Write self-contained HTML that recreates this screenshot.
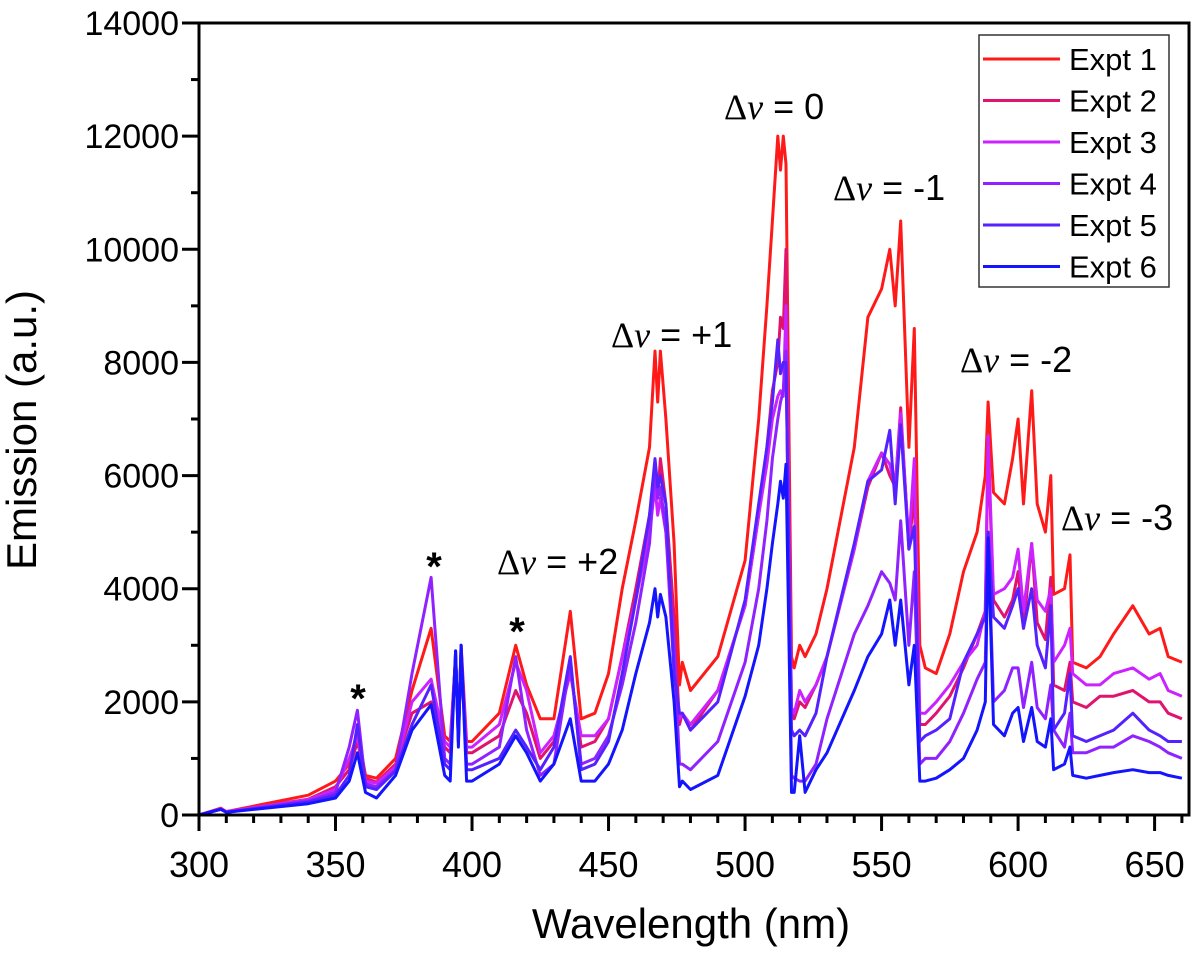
<!DOCTYPE html>
<html><head><meta charset="utf-8"><style>
html,body{margin:0;padding:0;background:#fff;}
svg text{font-family:"Liberation Sans",Arial,sans-serif;}
</style></head><body>
<svg id="chart" width="1200" height="955" viewBox="0 0 1200 955" xmlns="http://www.w3.org/2000/svg"></svg>
<script>
const wavelengths=[300,308,310,340,350,355,358,361,365,372,378,385,390,392,394,395,396,398,400,410,416,420,425,430,436,440,445,450,455,460,465,467,468,469,471,474,476,477,480,490,500,505,508,510,512,513,514,515,517,518,520,522,526,530,540,545,550,553,555,557,560,562,564,566,570,575,580,585,588,589,591,595,598,600,602,605,607,610,612,613,617,619,620,625,630,635,642,648,652,655,660];
const expt1=[0,120,60,350,600,900,1500,700,650,1000,2200,3300,1400,1300,2800,1500,3000,1300,1300,1800,3000,2300,1700,1700,3600,1700,1800,2500,4000,5200,6500,8200,7300,8200,7000,4800,2300,2700,2200,2800,4500,7000,9000,10500,12000,11400,12000,11500,2800,2600,3000,2800,3200,4000,6500,8800,9300,10000,9000,10500,6500,8600,3000,2600,2500,3200,4300,5000,6000,7300,5700,5500,6300,7000,5500,7500,5500,5000,6000,3900,4000,4600,2700,2600,2800,3200,3700,3200,3300,2800,2700];
const expt2=[0,110,60,280,500,800,1300,650,580,900,1800,2000,1200,1100,2800,1400,2900,1100,1100,1400,2200,1800,1000,1300,2600,1200,1300,1700,2800,4000,5300,6000,5600,6300,5500,3500,1600,1800,1500,2200,3700,5300,6500,7500,8000,8800,8600,10000,1800,1700,2000,1900,2300,2800,4700,5800,6400,6000,5800,7200,4700,5700,1600,1600,1800,2100,2600,3200,3600,6500,3800,3500,3800,4300,3300,4800,3400,3100,4200,2300,2200,2700,2000,1900,2100,2100,2200,2000,2000,1800,1700];
const expt3=[0,110,60,270,450,1000,1400,600,560,850,2000,2400,1300,1200,2800,1400,2900,1200,1200,1600,2700,2200,1100,1400,2500,1400,1400,1700,2800,3800,5000,5800,5300,5600,5000,2500,1700,1800,1600,2200,3700,5300,6200,7000,7400,7500,7400,9000,1900,1800,2200,2000,2300,2800,4700,5900,6400,6200,5800,7100,4800,6300,1800,1800,2000,2300,2700,3000,3600,6700,3900,4000,4200,4700,3600,4800,3800,3600,4000,2700,3000,3300,2500,2300,2300,2500,2600,2400,2500,2200,2100];
const expt4=[0,100,50,250,400,1200,1850,550,500,800,2500,4200,1000,900,2800,1300,2900,900,900,1200,2800,1500,700,900,2700,900,1000,1400,2300,3400,4800,6100,5600,5800,5000,3000,900,900,800,1300,2700,4000,5200,6300,7000,7300,7500,8200,700,650,600,600,900,1700,3200,3700,4300,4100,3800,5200,3000,4300,900,1000,1000,1300,1800,2400,2700,5000,2000,2200,2600,2600,1900,2700,1900,1700,2300,1500,1200,1800,1100,1100,1200,1200,1400,1300,1200,1100,1000];
const expt5=[0,100,50,230,350,700,1600,500,450,780,1600,2300,900,800,2900,1300,3000,800,800,1000,1500,1200,800,1200,2800,800,900,1300,2500,3800,5300,6300,5800,6000,5500,2500,1800,1800,1500,2000,3800,5500,6500,7300,8400,7800,8000,8000,1500,1400,1500,1400,1800,2800,4800,5900,6100,6800,5500,6900,4700,5100,1300,1400,1500,1700,2700,3200,3500,5000,3500,3300,3700,4000,3300,4000,3000,2600,3700,1500,1800,2500,1400,1300,1400,1500,1800,1500,1400,1300,1300];
const expt6=[0,100,50,200,300,600,1100,400,300,700,1500,1950,700,600,2900,1200,3000,600,600,900,1400,1100,600,900,1700,600,600,900,1500,2500,3400,4000,3500,3900,3500,2000,500,600,450,700,2100,3000,4000,4800,5500,5900,5600,6200,400,400,1400,400,800,1100,2200,2800,3200,3800,3000,3800,2300,3000,600,600,650,800,1000,1500,2000,4900,1600,1400,1800,1900,1300,1900,1300,1200,1700,800,900,1200,700,650,700,750,800,750,750,700,650];
const seriesNames=["Expt 1","Expt 2","Expt 3","Expt 4","Expt 5","Expt 6"];
const seriesColors=["#ff1a1a","#e0146e","#cc22ff","#9022ff","#5522ff","#1414ff"];
const yTicks=[0,2000,4000,6000,8000,10000,12000,14000];
const xTicks=[300,350,400,450,500,550,600,650];

const NS="http://www.w3.org/2000/svg";
const svg=document.getElementById('chart');
const L=199,R=1189,T=23,B=815;
const X0=300,X1=662.6,Y0=0,Y1=14000;
const sx=v=>L+(v-X0)/(X1-X0)*(R-L);
const sy=v=>B-(v-Y0)/(Y1-Y0)*(B-T);
function mk(tag,attrs,parent){const e=document.createElementNS(NS,tag);for(const k in attrs)e.setAttribute(k,attrs[k]);(parent||svg).appendChild(e);return e;}

const gS=mk('g',{});


const allSeries=[expt1,expt2,expt3,expt4,expt5,expt6];
allSeries.forEach((vals,i)=>{
  const d=vals.map((v,j)=>(j?'L':'M')+sx(wavelengths[j]).toFixed(1)+' '+sy(v).toFixed(1)).join(' ');
  const p=mk('path',{d:d,fill:'none',stroke:seriesColors[i],'stroke-width':3,'stroke-linejoin':'round'},gS);
  
  
});

const fr=mk('rect',{x:L,y:T,width:R-L,height:B-T,fill:'none',stroke:'#000','stroke-width':3});



for(let v=0;v<=14000;v+=1000){
  const major=v%2000===0;
  const t=mk('line',{x1:L-(major?17:8),x2:L,y1:sy(v),y2:sy(v),stroke:'#000','stroke-width':3});
  
  
}
yTicks.forEach(v=>{
  const t=mk('text',{x:L-20,y:sy(v)+12,'text-anchor':'end','font-size':34,fill:'#000'});
  t.textContent=v;
  
  
});
for(let v=300;v<=660;v+=10){
  const major=v%50===0;
  const t=mk('line',{x1:sx(v),x2:sx(v),y1:B,y2:B+(major?16:8),stroke:'#000','stroke-width':3});
  
  
}
xTicks.forEach(v=>{
  const t=mk('text',{x:sx(v),y:B+62,'text-anchor':'middle','font-size':36,fill:'#000'});
  t.textContent=v;
  
  
});
const xt=mk('text',{x:691,y:938,'text-anchor':'middle','font-size':42,fill:'#000'});
xt.textContent='Wavelength (nm)';


const yt=mk('text',{x:0,y:0,'text-anchor':'middle','font-size':42,fill:'#000',transform:'translate(36,430) rotate(-90)'});
yt.textContent='Emission (a.u.)';



const lg=mk('g',{});


const lb=mk('rect',{x:979,y:35,width:190,height:252,fill:'#fff',stroke:'#333','stroke-width':1.5},lg);


seriesNames.forEach((n,i)=>{
  const y=59+i*41.5;
  const ln=mk('line',{x1:983,x2:1060,y1:y,y2:y,stroke:seriesColors[i],'stroke-width':3},lg);
  
  
  const tx=mk('text',{x:1069,y:y+11,'font-size':31,fill:'#000'},lg);
  tx.textContent=n;
  
  
});

const ann=[["Δν = 0",724,119],["Δν = -1",833,200],["Δν = +1",611,347],["Δν = -2",960,372],["Δν = -3",1061,530],["Δν = +2",497,574]];
ann.forEach(a=>{
  const t=mk('text',{x:a[1],y:a[2],'font-size':36,fill:'#000'});
  t.innerHTML='<tspan font-family="Liberation Serif, serif">Δ</tspan><tspan font-family="Liberation Serif, serif" font-style="italic">ν</tspan> = '+a[0].split('= ')[1];
  
  
});
[[358,712],[434,580],[517,645]].forEach(a=>{
  const t=mk('text',{x:a[0],y:a[1],'text-anchor':'middle','font-size':40,'font-weight':'bold',fill:'#000'});
  t.textContent='*';
  
  
});
</script>
</body></html>
